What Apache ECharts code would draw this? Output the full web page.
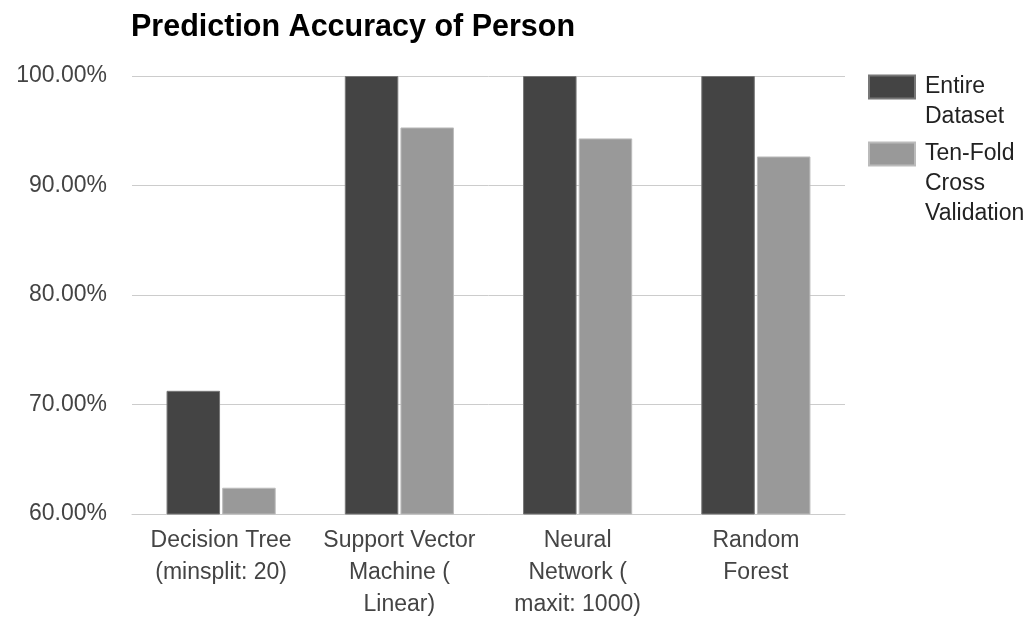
<!DOCTYPE html>
<html>
<head>
<meta charset="utf-8">
<script src="https://cdn.jsdelivr.net/npm/echarts@6/dist/echarts.min.js"></script>
<style>
  html, body { margin: 0; padding: 0; background: #fff; }
  #chart { width: 1036px; height: 617px; }
</style>
</head>
<body>
<div id="chart"></div>
<script>
// Model categories (x axis)
const categories = [
  'Decision Tree\n(minsplit: 20)',
  'Support Vector\nMachine (\nLinear)',
  'Neural\nNetwork (\nmaxit: 1000)',
  'Random\nForest'
];
// Accuracy in percent
const entireDataset = [71.25, 100, 100, 100];
const tenFoldCV = [62.4, 95.3, 94.3, 92.65];
const seriesNames = ['Entire Dataset', 'Ten-Fold Cross Validation'];
// Legend text, one line per entry; a leading blank line keeps the first line beside the swatch
const legendLines = {
  'Entire Dataset': '\nEntire\nDataset',
  'Ten-Fold Cross Validation': '\n\nTen-Fold\nCross\nValidation'
};

const FONT = '"Liberation Sans", Arial, sans-serif';
const chart = echarts.init(document.getElementById('chart'), null, { renderer: 'canvas' });

const legendBase = {
  orient: 'vertical',
  left: 868,
  padding: 0,
  itemWidth: 46,
  itemHeight: 23,
  icon: 'rect',
  selectedMode: false,
  formatter: name => legendLines[name],
  textStyle: {
    fontFamily: FONT,
    fontSize: 23,
    lineHeight: 30,
    color: '#222',
    padding: [0, 0, 0, 5]
  }
};

chart.setOption({
  animation: false,
  backgroundColor: '#fff',
  title: {
    text: 'Prediction Accuracy of Person',
    left: 131,
    top: 12,
    padding: 0,
    textStyle: { fontFamily: FONT, fontSize: 30.5, fontWeight: 'bold', color: '#000' }
  },
  legend: [
    Object.assign({}, legendBase, { top: 42, data: [seriesNames[0]] }),
    Object.assign({}, legendBase, { top: 79, data: [seriesNames[1]] })
  ],
  grid: { left: 132, right: 191, top: 76, bottom: 103, containLabel: false, outerBoundsMode: 'none' },
  xAxis: {
    type: 'category',
    data: categories,
    axisLine: { show: true, lineStyle: { color: '#ccc', width: 1 } },
    axisTick: { show: false },
    axisLabel: {
      interval: 0,
      margin: 11,
      fontFamily: FONT,
      fontSize: 23,
      lineHeight: 32,
      color: '#444',
      align: 'center'
    }
  },
  yAxis: {
    type: 'value',
    min: 60,
    max: 100,
    interval: 10,
    axisLine: { show: false },
    axisTick: { show: false },
    splitLine: { lineStyle: { color: '#ccc', width: 1 } },
    axisLabel: {
      margin: 25,
      fontFamily: FONT,
      fontSize: 23,
      color: '#444',
      formatter: v => v.toFixed(2) + '%'
    }
  },
  series: [
    {
      name: seriesNames[0],
      type: 'bar',
      data: entireDataset,
      barWidth: 53.5,
      barGap: '4%',
      itemStyle: { color: '#444444', borderColor: '#777', borderWidth: 1 }
    },
    {
      name: seriesNames[1],
      type: 'bar',
      data: tenFoldCV,
      barWidth: 53.5,
      itemStyle: { color: '#999999', borderColor: '#bbb', borderWidth: 1 }
    }
  ]
});
</script>
</body>
</html>
